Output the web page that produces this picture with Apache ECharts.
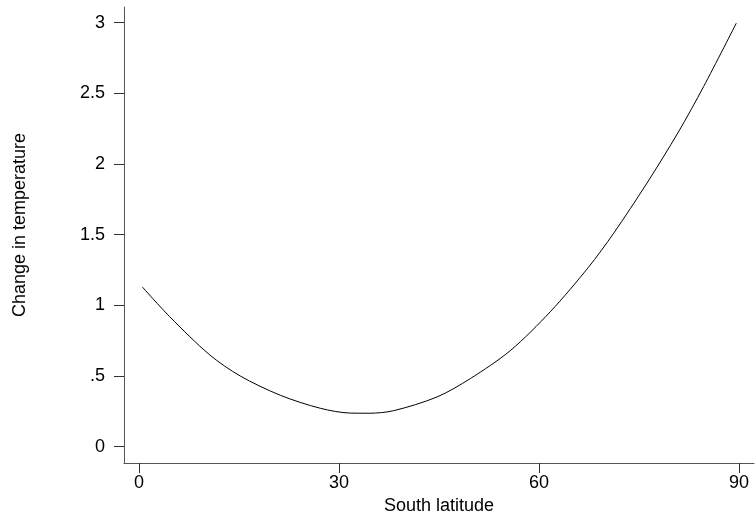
<!DOCTYPE html>
<html>
<head>
<meta charset="utf-8">
<script src="https://cdn.jsdelivr.net/npm/echarts@6/dist/echarts.min.js"></script>
<style>html,body{margin:0;padding:0;background:#fff;}#c{width:755px;height:512px;}</style>
</head>
<body>
<div id="c"></div>
<script>
const latitude = [0.5, 4.6, 10.6, 15.2, 21.2, 27.2, 31.7, 34.6, 38.2, 44.7, 49.7, 55.7, 61.7, 67.4, 71.2, 76.2, 80.9, 84.7, 89.6];
const tempChange = [1.13, 0.92, 0.65, 0.50, 0.364, 0.272, 0.238, 0.237, 0.255, 0.352, 0.482, 0.68, 0.955, 1.268, 1.51, 1.865, 2.225, 2.548, 2.996];
const xTicks = [0, 30, 60, 90];
const yTicks = [0, 0.5, 1, 1.5, 2, 2.5, 3];
const xTitle = 'South latitude';
const yTitle = 'Change in temperature';

const font = '"Liberation Sans", Arial, Helvetica, sans-serif';
const chart = echarts.init(document.getElementById('c'), null, {renderer: 'canvas'});
chart.setOption({
  animation: false,
  backgroundColor: '#fff',
  grid: {left: 124, right: 1, top: 7, bottom: 49, containLabel: false, outerBoundsMode: 'none'},
  xAxis: {
    type: 'value', min: -2.25, max: 92.25,
    name: xTitle, nameLocation: 'middle', nameGap: 27,
    nameTextStyle: {fontFamily: font, fontSize: 18, color: '#000'},
    axisLine: {show: true, onZero: false, lineStyle: {color: '#555', width: 1}},
    axisTick: {show: true, length: 10, customValues: xTicks, lineStyle: {color: '#333'}},
    axisLabel: {customValues: xTicks, margin: 11, fontFamily: font, fontSize: 18, color: '#000'},
    splitLine: {show: false}
  },
  yAxis: {
    type: 'value', min: -0.115, max: 3.11,
    name: yTitle, nameLocation: 'middle', nameGap: 95, nameRotate: 90,
    nameTextStyle: {fontFamily: font, fontSize: 18, color: '#000', padding: [0, 0, 0, 20]},
    axisLine: {show: true, onZero: false, lineStyle: {color: '#555', width: 1}},
    axisTick: {show: true, length: 10, customValues: yTicks, lineStyle: {color: '#333'}},
    axisLabel: {customValues: yTicks, margin: 19, fontFamily: font, fontSize: 18, color: '#000',
      formatter: function (v) { var s = String(v); return s.indexOf('0.') === 0 ? s.slice(1) : s; }},
    splitLine: {show: false}
  },
  series: [{
    type: 'line',
    data: latitude.map((x, i) => [x, tempChange[i]]),
    smooth: 0.3,
    showSymbol: false,
    lineStyle: {color: '#000', width: 1},
    z: 3
  }]
});
</script>
</body>
</html>
